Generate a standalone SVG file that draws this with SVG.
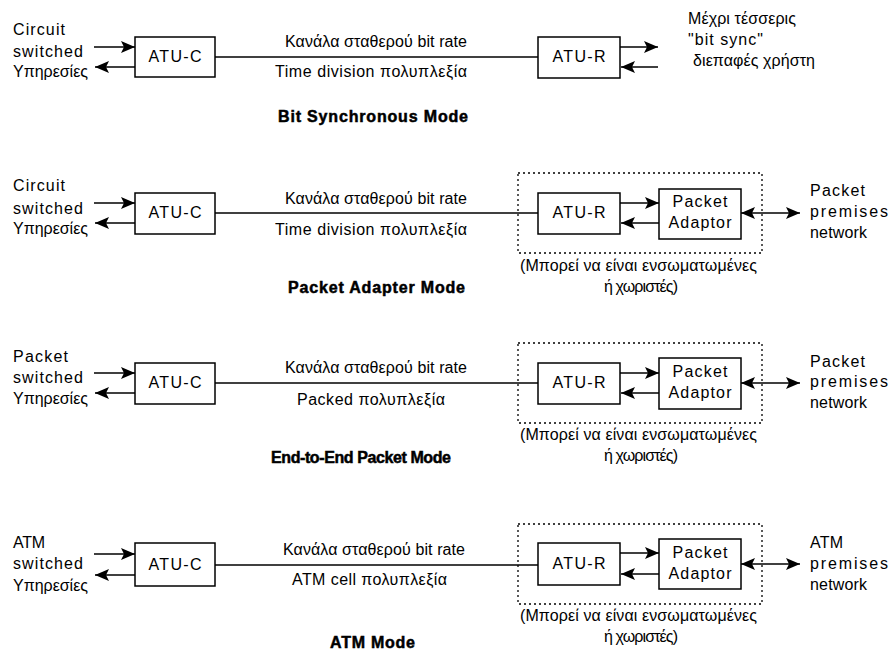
<svg xmlns="http://www.w3.org/2000/svg" width="891" height="652" viewBox="0 0 891 652">
<style>
text{font-family:"Liberation Sans",Arial,sans-serif;font-size:16px;fill:#000}
.t{font-weight:bold;font-size:16px;stroke:#000;stroke-width:0.5}
.c{text-anchor:middle}
.box{fill:#fff;stroke:#000;stroke-width:1.5}
.dash{fill:none;stroke:#000;stroke-width:1.3;stroke-dasharray:2 3}
.ln{stroke:#000;stroke-width:1.3;fill:none}
.ar{stroke:#000;stroke-width:1.3;fill:none;marker-end:url(#ah)}
.bi{stroke:#000;stroke-width:1.3;fill:none;marker-end:url(#ah);marker-start:url(#ahs)}
</style>
<defs>
<marker id="ah" markerUnits="userSpaceOnUse" markerWidth="15" markerHeight="13" refX="14" refY="6" orient="auto" viewBox="0 0 15 13"><path d="M0,0 L14,6 L0,12 L3,6 Z" fill="#000"/></marker>
<marker id="ahs" markerUnits="userSpaceOnUse" markerWidth="15" markerHeight="13" refX="14" refY="6" orient="auto-start-reverse" viewBox="0 0 15 13"><path d="M0,0 L14,6 L0,12 L3,6 Z" fill="#000"/></marker>
</defs>
<rect width="891" height="652" fill="#fff"/>

<!-- Section 1 -->
<g id="s1-left"><text x="13" y="35" textLength="52">Circuit</text><text x="13" y="57" textLength="70">switched</text><text x="13" y="77" textLength="75">Υπηρεσίες</text></g>
<g id="s1-atuc"><rect class="box" x="135" y="37" width="80" height="40"/><text class="c" x="175" y="62" textLength="53">ATU-C</text></g>
<g id="s1-atur"><rect class="box" x="538" y="37" width="82" height="41"/><text class="c" x="579" y="62" textLength="53">ATU-R</text></g>
<g id="s1-right"><text x="688" y="24" textLength="108">Μέχρι τέσσερις</text><text x="688" y="45" textLength="75">"bit sync"</text><text x="693" y="66" textLength="122">διεπαφές χρήστη</text></g>
<g id="s1-mid"><text x="285" y="47" textLength="182">Κανάλα σταθερού bit rate</text><text x="275" y="77" textLength="192">Time division πολυπλεξία</text></g>
<g id="s1-title"><text class="t" x="278" y="122" textLength="190">Bit Synchronous Mode</text></g>

<!-- Section 2 -->
<g id="s2-left"><text x="13" y="191" textLength="52">Circuit</text><text x="13" y="214" textLength="70">switched</text><text x="13" y="234" textLength="75">Υπηρεσίες</text></g>
<g id="s2-atuc"><rect class="box" x="135" y="193" width="80" height="41"/><text class="c" x="175" y="218" textLength="53">ATU-C</text></g>
<g id="s2-group"><rect class="dash" x="518" y="173" width="244" height="80"/><text x="520" y="271" textLength="237">(Μπορεί να είναι ενσωματωμένες</text><text x="604" y="292" textLength="74">ή χωριστές)</text></g>
<g id="s2-atur"><rect class="box" x="538" y="193" width="82" height="41"/><text class="c" x="579" y="218" textLength="53">ATU-R</text></g>
<g id="s2-pa"><rect class="box" x="659" y="189" width="82" height="50"/><text class="c" x="700" y="207" textLength="55">Packet</text><text class="c" x="700" y="228" textLength="63">Adaptor</text></g>
<g id="s2-right"><text x="810" y="196" textLength="55">Packet</text><text x="810" y="217" textLength="78">premises</text><text x="810" y="238" textLength="57">network</text></g>
<g id="s2-mid"><text x="285" y="204" textLength="182">Κανάλα σταθερού bit rate</text><text x="275" y="235" textLength="192">Time division πολυπλεξία</text></g>
<g id="s2-title"><text class="t" x="288" y="293" textLength="177">Packet Adapter Mode</text></g>

<!-- Section 3 -->
<g id="s3-left"><text x="13" y="362" textLength="55">Packet</text><text x="13" y="383" textLength="70">switched</text><text x="13" y="404" textLength="75">Υπηρεσίες</text></g>
<g id="s3-atuc"><rect class="box" x="135" y="363" width="80" height="41"/><text class="c" x="175" y="388" textLength="53">ATU-C</text></g>
<g id="s3-group"><rect class="dash" x="518" y="343" width="244" height="80"/><text x="520" y="440" textLength="237">(Μπορεί να είναι ενσωματωμένες</text><text x="604" y="461" textLength="74">ή χωριστές)</text></g>
<g id="s3-atur"><rect class="box" x="538" y="363" width="82" height="41"/><text class="c" x="579" y="388" textLength="53">ATU-R</text></g>
<g id="s3-pa"><rect class="box" x="659" y="358" width="82" height="51"/><text class="c" x="700" y="377" textLength="55">Packet</text><text class="c" x="700" y="398" textLength="63">Adaptor</text></g>
<g id="s3-right"><text x="810" y="367" textLength="55">Packet</text><text x="810" y="387" textLength="78">premises</text><text x="810" y="408" textLength="57">network</text></g>
<g id="s3-mid"><text x="285" y="373" textLength="182">Κανάλα σταθερού bit rate</text><text x="297" y="405" textLength="148">Packed  πολυπλεξία</text></g>
<g id="s3-title"><text class="t" x="271" y="463" textLength="180">End-to-End Packet Mode</text></g>

<!-- Section 4 -->
<g id="s4-left"><text x="13" y="548" textLength="32">ATM</text><text x="13" y="569" textLength="70">switched</text><text x="13" y="591" textLength="75">Υπηρεσίες</text></g>
<g id="s4-atuc"><rect class="box" x="135" y="543" width="80" height="43"/><text class="c" x="175" y="570" textLength="53">ATU-C</text></g>
<g id="s4-group"><rect class="dash" x="518" y="524" width="244" height="80"/><text x="520" y="621" textLength="237">(Μπορεί να είναι ενσωματωμένες</text><text x="604" y="642" textLength="74">ή χωριστές)</text></g>
<g id="s4-atur"><rect class="box" x="538" y="543" width="82" height="42"/><text class="c" x="579" y="569" textLength="53">ATU-R</text></g>
<g id="s4-pa"><rect class="box" x="659" y="539" width="82" height="50"/><text class="c" x="700" y="558" textLength="55">Packet</text><text class="c" x="700" y="579" textLength="63">Adaptor</text></g>
<g id="s4-right"><text x="810" y="548" textLength="33">ATM</text><text x="810" y="569" textLength="78">premises</text><text x="810" y="590" textLength="57">network</text></g>
<g id="s4-mid"><text x="283" y="555" textLength="182">Κανάλα σταθερού bit rate</text><text x="292" y="585" textLength="155">ATM cell  πολυπλεξία</text></g>
<g id="s4-title"><text class="t" x="330" y="648" textLength="85">ATM Mode</text></g>

<g id="connectors">
<line class="ln" x1="215" y1="57" x2="538" y2="57"/>
<line class="ar" x1="94" y1="47" x2="135" y2="47"/>
<line class="ar" x1="135" y1="67" x2="95" y2="67"/>
<line class="ar" x1="620" y1="47" x2="658" y2="47"/>
<line class="ar" x1="658" y1="67" x2="621" y2="67"/>

<line class="ln" x1="215" y1="213" x2="538" y2="213"/>
<line class="ar" x1="94" y1="203" x2="135" y2="203"/>
<line class="ar" x1="135" y1="223" x2="95" y2="223"/>
<line class="ar" x1="620" y1="203" x2="659" y2="203"/>
<line class="ar" x1="659" y1="223" x2="621" y2="223"/>
<line class="bi" x1="741" y1="213" x2="800" y2="213"/>

<line class="ln" x1="215" y1="383" x2="538" y2="383"/>
<line class="ar" x1="94" y1="373" x2="135" y2="373"/>
<line class="ar" x1="135" y1="393" x2="95" y2="393"/>
<line class="ar" x1="620" y1="373" x2="659" y2="373"/>
<line class="ar" x1="659" y1="393" x2="621" y2="393"/>
<line class="bi" x1="741" y1="383" x2="800" y2="383"/>

<line class="ln" x1="215" y1="565" x2="538" y2="565"/>
<line class="ar" x1="94" y1="554" x2="135" y2="554"/>
<line class="ar" x1="135" y1="575" x2="95" y2="575"/>
<line class="ar" x1="620" y1="553" x2="659" y2="553"/>
<line class="ar" x1="659" y1="574" x2="621" y2="574"/>
<line class="bi" x1="741" y1="564" x2="800" y2="564"/>
</g>
</svg>
